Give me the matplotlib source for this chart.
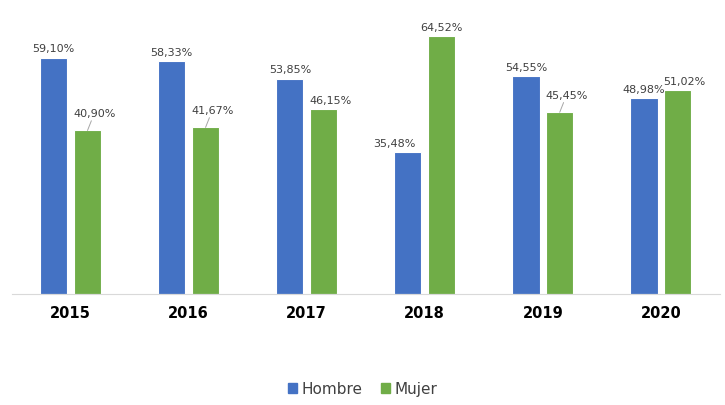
import matplotlib.pyplot as plt
import numpy as np
from matplotlib.patches import Patch

years = ['2015', '2016', '2017', '2018', '2019', '2020']
hombre = [59.10, 58.33, 53.85, 35.48, 54.55, 48.98]
mujer = [40.90, 41.67, 46.15, 64.52, 45.45, 51.02]

blue = '#4472C4'
green = '#70AD47'

def fmt(v):
    return f'{v:.2f}'.replace('.', ',') + '%'

fig = plt.figure(figsize=(7.25, 4.06), dpi=100)
ax = fig.add_axes([0.016, 0.273, 0.977, 0.69])

x = np.arange(len(years))
w = 0.23
off = 0.143
ax.bar(x - off, hombre, w, color=blue, edgecolor='white', linewidth=0.8)
ax.bar(x + off, mujer, w, color=green, edgecolor='white', linewidth=0.8)

# labels for Hombre
for i, v in enumerate(hombre):
    dx = -10 if years[i] == '2018' else 0
    ax.annotate(fmt(v), (x[i] - off, v), xytext=(dx, 3), textcoords='offset points',
                ha='center', va='bottom', fontsize=8, color='#404040')

# labels for Mujer, some with leader lines
leaders = ['2015', '2016', '2019']
for i, v in enumerate(mujer):
    if years[i] in leaders:
        ax.annotate(fmt(v), (x[i] + off, v), xytext=(5, 9), textcoords='offset points',
                    ha='center', va='bottom', fontsize=8, color='#404040',
                    arrowprops=dict(arrowstyle='-', color='#a6a6a6', lw=0.7,
                                    shrinkA=0, shrinkB=0))
    else:
        dx = 5 if years[i] in ('2017', '2020') else 0
        ax.annotate(fmt(v), (x[i] + off, v), xytext=(dx, 3), textcoords='offset points',
                    ha='center', va='bottom', fontsize=8, color='#404040')

ax.set_xlim(-0.5, len(years) - 0.5)
ax.set_ylim(0, 70)
ax.set_xticks(x)
ax.set_xticklabels(years, fontsize=10.5, fontweight='bold', color='black')
ax.tick_params(axis='x', length=0, pad=8)
ax.set_yticks([])
for s in ['top', 'right', 'left']:
    ax.spines[s].set_visible(False)
ax.spines['bottom'].set_color('#d9d9d9')

handles = [Patch(color=blue, label='Hombre'), Patch(color=green, label='Mujer')]
fig.legend(handles=handles, loc='lower center', bbox_to_anchor=(0.5, -0.012), ncol=2,
           frameon=False, fontsize=11, handlelength=0.6, handleheight=0.6,
           handletextpad=0.3, columnspacing=1.2, labelcolor='#404040')

fig.savefig('out.png', dpi=100)
